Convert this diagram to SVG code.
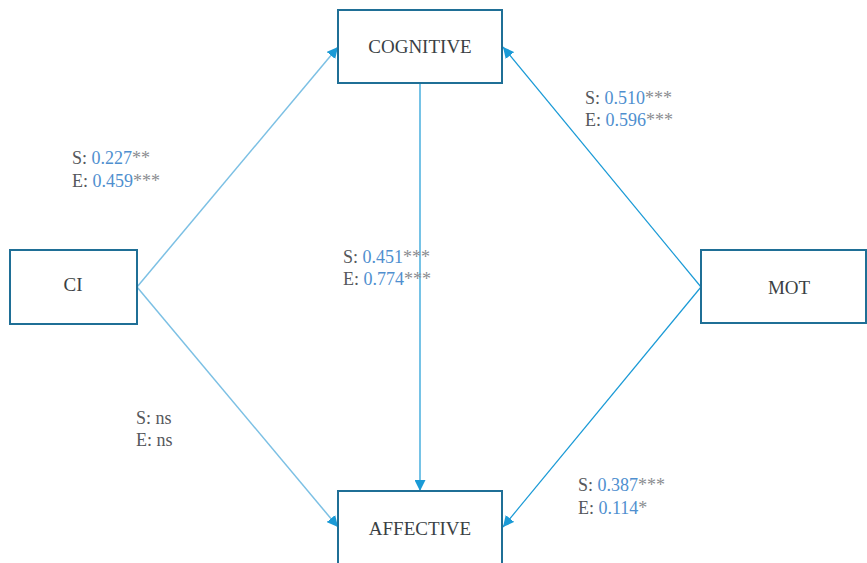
<svg xmlns="http://www.w3.org/2000/svg" width="867" height="563" viewBox="0 0 867 563">
<defs>
<marker id="ah" viewBox="0 0 10 10" refX="10" refY="5" markerWidth="11" markerHeight="11" markerUnits="userSpaceOnUse" orient="auto">
<path d="M0,0 L10,5 L0,10 Z" fill="#1a9ad6"/>
</marker>
<style>
.box{fill:#fff;stroke:#1f6f96;stroke-width:2}
.bl{font-family:'Liberation Serif','DejaVu Serif',serif;font-size:19px;fill:#3a3f44;text-anchor:middle}
.lb{font-family:'Liberation Serif','DejaVu Serif',serif;font-size:18px;fill:#55585c}
.v{fill:#4f8fcf}
.st{fill:#8a8d90}
.e{stroke:#1a9ad6;stroke-width:1.2;fill:none}
.el{stroke:#7cc0e4;stroke-width:1.5;fill:none}
</style>
</defs>
<rect width="867" height="563" fill="#fff"/>
<g id="connectors">
<line class="el" x1="137" y1="287" x2="338" y2="47" marker-end="url(#ah)"/>
<line class="el" x1="137" y1="287" x2="338" y2="527" marker-end="url(#ah)"/>
<line class="e" x1="420" y1="84" x2="420" y2="491" marker-end="url(#ah)"/>
<line class="e" x1="701" y1="287" x2="503" y2="47" marker-end="url(#ah)"/>
<line class="e" x1="701" y1="287" x2="503" y2="527" marker-end="url(#ah)"/>
</g>
<g id="cognitive"><rect class="box" x="338" y="10" width="164" height="73"/><text class="bl" x="420" y="53">COGNITIVE</text></g>
<g id="ci"><rect class="box" x="10" y="250" width="127" height="74"/><text class="bl" x="73" y="291">CI</text></g>
<g id="mot"><rect class="box" x="701" y="250" width="165" height="73"/><text class="bl" x="789" y="294">MOT</text></g>
<g id="affective"><rect class="box" x="338" y="491" width="164" height="80"/><text class="bl" x="420" y="535">AFFECTIVE</text></g>
<g id="labels">
<text class="lb" x="72" y="164">S: <tspan class="v">0.227</tspan><tspan class="st">**</tspan></text>
<text class="lb" x="72" y="187">E: <tspan class="v">0.459</tspan><tspan class="st">***</tspan></text>
<text class="lb" x="585" y="104">S: <tspan class="v">0.510</tspan><tspan class="st">***</tspan></text>
<text class="lb" x="585" y="126">E: <tspan class="v">0.596</tspan><tspan class="st">***</tspan></text>
<text class="lb" x="343" y="263">S: <tspan class="v">0.451</tspan><tspan class="st">***</tspan></text>
<text class="lb" x="343" y="285">E: <tspan class="v">0.774</tspan><tspan class="st">***</tspan></text>
<text class="lb" x="136" y="424">S: ns</text>
<text class="lb" x="136" y="446">E: ns</text>
<text class="lb" x="578" y="491">S: <tspan class="v">0.387</tspan><tspan class="st">***</tspan></text>
<text class="lb" x="578" y="514">E: <tspan class="v">0.114</tspan><tspan class="st">*</tspan></text>
</g>
</svg>
